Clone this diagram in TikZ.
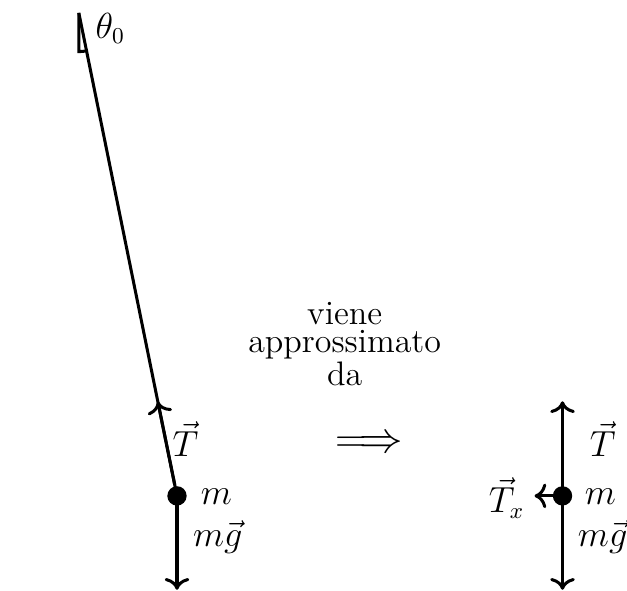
\documentclass[tikz,border=0pt]{standalone}
\usepackage{mathtools}
\usepackage{tikz}
\usetikzlibrary{calc,arrows.meta}

\begin{document}
\begin{tikzpicture}[line width=1.2pt, >={To[scale=1.1]},
    every node/.style={font=\fontsize{13.5pt}{11.3pt}\selectfont, inner sep=1pt},
    massdot/.style={circle, fill, inner sep=0pt, minimum size=0.27cm}]
      \useasboundingbox (0,0) rectangle (8.75,-8.245);
      % pendolo
      \coordinate (P) at (1.10,-0.18);
      \node[massdot] (M) at (2.47,-6.92) {};
      \coordinate (Tt) at ($(M)!0.195!(P)$);
      \coordinate (G) at (2.47,-8.23);
      \draw (P) -- (M);
      \draw (P) -- ++(0,-0.54) arc[start angle=-90, end angle=-78.53, radius=0.54];
      \node (th) at (1.54,-0.40) {$\theta_0$};
      \draw[->] (M.center) -- (Tt);
      \draw[->] (M.center) -- (G);
      \node (T) at (2.59,-6.13) {$\vec{T}$};
      \node (m) at (3.02,-6.93) {$m$};
      \node (g) at (3.04,-7.49) {$m\vec{g}$};
      % freccia
      \node[align=center] (txt) at (4.81,-4.80) {viene\\approssimato\\da};
      \node[font=\fontsize{19pt}{22pt}\selectfont] (imp) at (5.15,-6.21) {$\Longrightarrow$};
      % approssimazione
      \node[massdot] (M2) at (7.85,-6.92) {};
      \coordinate (T2) at (7.85,-5.60);
      \coordinate (G2) at (7.85,-8.23);
      \coordinate (X2) at (7.46,-6.92);
      \draw[->] (M2.center) -- (T2);
      \draw[->] (M2.center) -- (G2);
      \draw[->] (M2.center) -- (X2);
      \node (T2l) at (8.41,-6.13) {$\vec{T}$};
      \node (m2) at (8.38,-6.93) {$m$};
      \node (g2) at (8.41,-7.49) {$m\vec{g}$};
      \node (Tx) at (7.07,-6.95) {$\vec{T}_x$};
    \end{tikzpicture}
\end{document}
